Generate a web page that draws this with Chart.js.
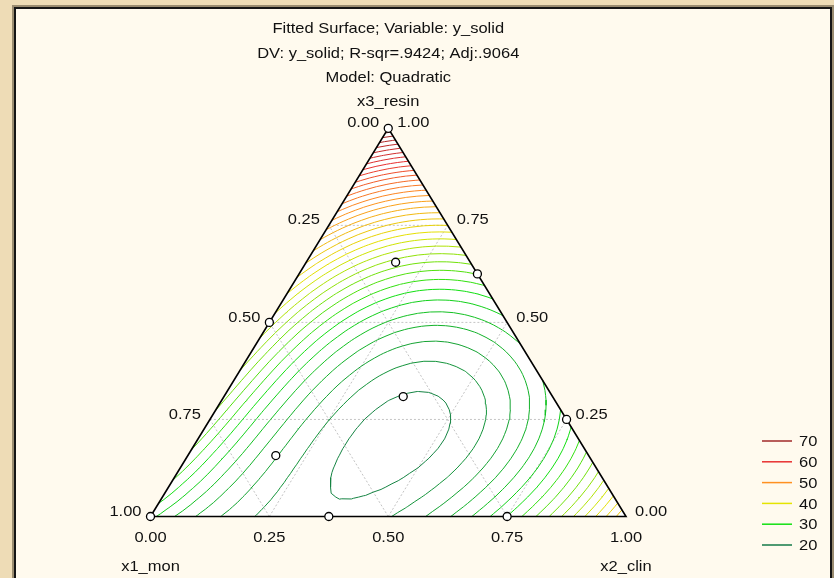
<!DOCTYPE html>
<html><head><meta charset="utf-8">
<script src="https://cdn.jsdelivr.net/npm/chart.js@4.4.1/dist/chart.umd.min.js"></script>
<style>html,body{margin:0;padding:0;background:#eedcb6;}canvas{display:block;}</style>
</head><body>
<canvas id="c" width="834" height="578"></canvas>
<script>
// ---------- DATA ----------
const titleLines = ['Fitted Surface; Variable: y_solid', 'DV: y_solid; R-sqr=.9424; Adj:.9064', 'Model: Quadratic'];
const componentNames = ['x1_mon', 'x2_clin', 'x3_resin'];
const tickValues = [0, 0.25, 0.5, 0.75, 1];
const tickLabels = ['0.00', '0.25', '0.50', '0.75', '1.00'];
// fitted surface coefficients
const linearCoef = [29, 45, 72];                 // x1, x2, x3
const quadCoef = [-58.5, -48.35, -121.9];        // x1x2, x1x3, x2x3
const cubicCoef = [0, 37.45, 4.2];               // x1x2(x1-x2), x1x3(x1-x3), x2x3(x2-x3)
const ternaryCoef = -45;                          // x1x2x3
const contourLevels = [19.5, 21, 22.5, 24, 25.5, 27, 28.5, 30, 31.5, 33, 34.5, 36, 37.5, 39, 40.5, 42, 43.5, 45, 46.5, 48, 49.5, 51, 52.5, 54, 55.5, 57, 58.5, 60, 61.5, 63, 64.5, 66, 67.5, 69, 70.5];
const legendLevels = [70, 60, 50, 40, 30, 20];
const legendColors = ['#a02828', '#e83030', '#ff9020', '#e4e400', '#12e012', '#157a48'];
const designX1 = [1, 0, 0.5, 0, 0, 0.625, 0.25, 0.157, 0.314, 0.658];
const designX2 = [0, 0, 0, 0.375, 0.75, 0.375, 0.75, 0.188, 0.377, 0.185];
const designX3 = [0, 1, 0.5, 0.625, 0.25, 0, 0, 0.655, 0.309, 0.157];

// ---------- helpers ----------
function toXY(x1, x2, x3) { return { x: x2 + x3 / 2, y: x3 }; }
function model(x1, x2, x3) {
  return linearCoef[0] * x1 + linearCoef[1] * x2 + linearCoef[2] * x3 +
    x1 * x2 * (quadCoef[0] + cubicCoef[0] * (x1 - x2)) +
    x1 * x3 * (quadCoef[1] + cubicCoef[1] * (x1 - x3)) +
    x2 * x3 * (quadCoef[2] + cubicCoef[2] * (x2 - x3)) +
    ternaryCoef * x1 * x2 * x3;
}
function hex2rgb(h) { return [parseInt(h.substr(1, 2), 16), parseInt(h.substr(3, 2), 16), parseInt(h.substr(5, 2), 16)]; }
function levelColor(L) {
  const lv = legendLevels.slice().reverse(), cs = legendColors.slice().reverse();
  if (L <= lv[0]) return cs[0];
  if (L >= lv[lv.length - 1]) return cs[cs.length - 1];
  for (let i = 0; i < lv.length - 1; i++) {
    if (L >= lv[i] && L <= lv[i + 1]) {
      const t = (L - lv[i]) / (lv[i + 1] - lv[i]);
      const a = hex2rgb(cs[i]), b = hex2rgb(cs[i + 1]);
      return 'rgb(' + a.map((v, k) => Math.round(v + (b[k] - v) * t)).join(',') + ')';
    }
  }
}
const GAP = { x: NaN, y: NaN };

// marching triangles on the simplex
const N = 40;
const nodes = [];
const nodeIndex = (i, j) => i * (N + 1) + j;
for (let i = 0; i <= N; i++) for (let j = 0; j <= N; j++) {
  if (i + j <= N) {
    const x2 = i / N, x3 = j / N, x1 = 1 - x2 - x3;
    nodes[nodeIndex(i, j)] = { x1, x2, x3, v: model(x1, x2, x3) };
  }
}
const tris = [];
for (let i = 0; i < N; i++) for (let j = 0; j < N; j++) {
  if (i + j + 1 <= N) tris.push([nodeIndex(i, j), nodeIndex(i + 1, j), nodeIndex(i, j + 1)]);
  if (i + j + 2 <= N) tris.push([nodeIndex(i + 1, j), nodeIndex(i + 1, j + 1), nodeIndex(i, j + 1)]);
}
function contour(L) {
  const segs = [];
  for (const t of tris) {
    const pts = [];
    for (let e = 0; e < 3; e++) {
      const a = t[e], b = t[(e + 1) % 3];
      const va = nodes[a].v - L + 1e-9, vb = nodes[b].v - L + 1e-9;
      if (va * vb < 0) {
        const s = va / (va - vb);
        const A = nodes[a], B = nodes[b];
        const p = toXY(A.x1 + s * (B.x1 - A.x1), A.x2 + s * (B.x2 - A.x2), A.x3 + s * (B.x3 - A.x3));
        p.k = Math.min(a, b) + '_' + Math.max(a, b);
        pts.push(p);
      }
    }
    if (pts.length === 2) segs.push(pts);
  }
  const map = new Map();
  segs.forEach((s, i) => s.forEach(p => { if (!map.has(p.k)) map.set(p.k, []); map.get(p.k).push(i); }));
  const used = new Array(segs.length).fill(false);
  const out = [];
  const extend = (line) => {
    let go = true;
    while (go) {
      go = false;
      const end = line[line.length - 1];
      for (const si of map.get(end.k)) {
        if (!used[si]) {
          used[si] = true;
          const s = segs[si];
          line.push(s[0].k === end.k ? s[1] : s[0]);
          go = true; break;
        }
      }
    }
  };
  for (let i = 0; i < segs.length; i++) {
    if (used[i]) continue;
    used[i] = true;
    const line = [segs[i][0], segs[i][1]];
    extend(line); line.reverse(); extend(line);
    line.forEach(p => out.push({ x: p.x, y: p.y }));
    out.push(GAP);
  }
  return out;
}

const gridData = [];
for (const v of [0.25, 0.5, 0.75]) {
  gridData.push(toXY(1 - v, 0, v), toXY(0, 1 - v, v), GAP);
  gridData.push(toXY(v, 1 - v, 0), toXY(v, 0, 1 - v), GAP);
  gridData.push(toXY(1 - v, v, 0), toXY(0, v, 1 - v), GAP);
}
const edgeData = [toXY(1, 0, 0), toXY(0, 1, 0), toXY(0, 0, 1), toXY(1, 0, 0)];
const designData = designX1.map((v, i) => toXY(v, designX2[i], designX3[i]));

const datasets = [];
datasets.push({ data: designData, showLine: false, pointRadius: 4, pointBorderWidth: 1.3, pointBorderColor: '#000', pointBackgroundColor: '#fff', order: 0, clip: false });
datasets.push({ data: edgeData, showLine: true, borderColor: '#000', borderWidth: 1.6, pointRadius: 0, order: 1, clip: false });
contourLevels.forEach(L => {
  datasets.push({ data: contour(L), showLine: true, spanGaps: false, borderColor: levelColor(L), borderWidth: 1, pointRadius: 0, order: 2, clip: false });
});
datasets.push({ data: gridData, showLine: true, spanGaps: false, borderColor: '#c4c4c4', borderWidth: 1, borderDash: [2, 2], pointRadius: 0, order: 3, clip: false });

const FONT = '15px "Liberation Sans", Arial, sans-serif';
const SX = 1.1;
function txt(ctx, s, x, y, align) {
  ctx.save();
  ctx.translate(x, y);
  ctx.scale(SX, 1);
  ctx.textAlign = align;
  ctx.fillText(s, 0, 0);
  ctx.restore();
}
const decor = {
  id: 'decor',
  beforeDraw(chart) {
    const ctx = chart.ctx;
    ctx.save();
    ctx.fillStyle = '#eedcb6';
    ctx.fillRect(0, 0, 834, 578);
    ctx.fillStyle = '#9a8c70';
    ctx.fillRect(12, 5, 822, 580);
    ctx.fillStyle = '#fffaee';
    ctx.fillRect(15, 8, 816, 580);
    ctx.strokeStyle = '#151515';
    ctx.lineWidth = 2;
    ctx.strokeRect(15, 8, 816, 580);
    ctx.restore();
  },
  beforeDatasetsDraw(chart) {
    const ctx = chart.ctx, xs = chart.scales.x, ys = chart.scales.y;
    ctx.save();
    ctx.beginPath();
    edgeData.forEach((p, i) => {
      const px = xs.getPixelForValue(p.x), py = ys.getPixelForValue(p.y);
      if (i === 0) ctx.moveTo(px, py); else ctx.lineTo(px, py);
    });
    ctx.fillStyle = '#ffffff';
    ctx.fill();
    ctx.restore();
  },
  afterDraw(chart) {
    const ctx = chart.ctx, xs = chart.scales.x, ys = chart.scales.y;
    const P = (x1, x2, x3) => { const q = toXY(x1, x2, x3); return [xs.getPixelForValue(q.x), ys.getPixelForValue(q.y)]; };
    ctx.save();
    ctx.font = FONT;
    ctx.fillStyle = '#111';
    ctx.textBaseline = 'middle';
    const cx = P(0, 0, 1)[0];
    titleLines.forEach((t, i) => txt(ctx, t, cx, 29 + i * 24.5, 'center'));
    txt(ctx, componentNames[2], cx, 102, 'center');
    tickValues.forEach((v, i) => { const [px, py] = P(v, 0, 1 - v); txt(ctx, tickLabels[i], px - 9, py - 5, 'right'); });
    tickValues.forEach((v, i) => { const [px, py] = P(0, 1 - v, v); txt(ctx, tickLabels[i], px + 9, py - 5, 'left'); });
    tickValues.forEach((v, i) => { const [px, py] = P(1 - v, v, 0); txt(ctx, tickLabels[i], px, py + 21, 'center'); });
    const bl = P(1, 0, 0), br = P(0, 1, 0);
    txt(ctx, componentNames[0], bl[0], bl[1] + 50, 'center');
    txt(ctx, componentNames[1], br[0], br[1] + 50, 'center');
    legendLevels.forEach((L, i) => {
      const y = 441 + i * 20.8;
      ctx.strokeStyle = legendColors[i];
      ctx.lineWidth = 1.5;
      ctx.beginPath(); ctx.moveTo(762, y); ctx.lineTo(792, y); ctx.stroke();
      txt(ctx, String(L), 799, y + 1, 'left');
    });
    ctx.restore();
  }
};

new Chart(document.getElementById('c'), {
  type: 'scatter',
  data: { datasets },
  options: {
    responsive: false,
    animation: false,
    devicePixelRatio: 1,
    layout: { padding: { left: 150.5, right: 208, top: 128.3, bottom: 61.5 } },
    scales: {
      x: { type: 'linear', min: 0, max: 1, display: false },
      y: { type: 'linear', min: 0, max: 1, display: false }
    },
    plugins: { legend: { display: false }, tooltip: { enabled: false } },
    events: []
  },
  plugins: [decor]
});
</script>
</body></html>
